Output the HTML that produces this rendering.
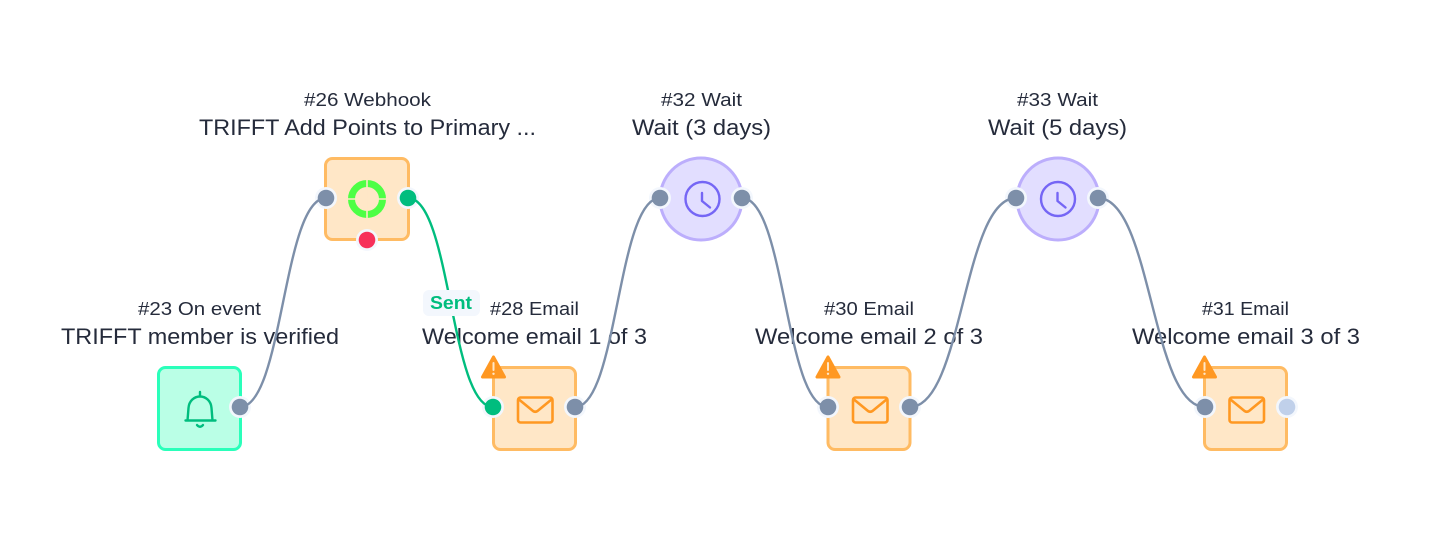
<!DOCTYPE html>
<html><head><meta charset="utf-8"><style>
html,body{margin:0;padding:0;background:#fff;width:1434px;height:538px;overflow:hidden}
svg{display:block}
text{font-family:"Liberation Sans",sans-serif;fill:#252b3b}
.a{font-size:18px}.b{font-size:22px}
.n{fill:#ffe7c7;stroke:#ffbb63;stroke-width:3}
.g{fill:#7d8fa9}
.c{fill:none;stroke:#7d8fa9;stroke-width:2.4}
.e{fill:none;stroke:#ff9822;stroke-width:2.6;stroke-linejoin:round;stroke-linecap:round}
</style></head><body>
<svg width="1434" height="538" viewBox="0 0 1434 538" xmlns="http://www.w3.org/2000/svg">
<text class="a" x="138" y="315" textLength="123" lengthAdjust="spacingAndGlyphs">#23 On event</text>
<text class="b" x="61" y="344" textLength="278" lengthAdjust="spacingAndGlyphs">TRIFFT member is verified</text>
<text class="a" x="304" y="106" textLength="127" lengthAdjust="spacingAndGlyphs">#26 Webhook</text>
<text class="b" x="199" y="135" textLength="337" lengthAdjust="spacingAndGlyphs">TRIFFT Add Points to Primary ...</text>
<text class="a" x="490" y="315" textLength="89" lengthAdjust="spacingAndGlyphs">#28 Email</text>
<text class="b" x="422" y="344" textLength="225" lengthAdjust="spacingAndGlyphs">Welcome email 1 of 3</text>
<text class="a" x="661" y="106" textLength="81" lengthAdjust="spacingAndGlyphs">#32 Wait</text>
<text class="b" x="632" y="135" textLength="139" lengthAdjust="spacingAndGlyphs">Wait (3 days)</text>
<text class="a" x="824" y="315" textLength="90" lengthAdjust="spacingAndGlyphs">#30 Email</text>
<text class="b" x="755" y="344" textLength="228" lengthAdjust="spacingAndGlyphs">Welcome email 2 of 3</text>
<text class="a" x="1017" y="106" textLength="81" lengthAdjust="spacingAndGlyphs">#33 Wait</text>
<text class="b" x="988" y="135" textLength="139" lengthAdjust="spacingAndGlyphs">Wait (5 days)</text>
<text class="a" x="1202" y="315" textLength="87" lengthAdjust="spacingAndGlyphs">#31 Email</text>
<text class="b" x="1132" y="344" textLength="228" lengthAdjust="spacingAndGlyphs">Welcome email 3 of 3</text>

<rect x="158.500" y="367.500" width="82" height="82" rx="7" fill="#baffe6" stroke="#2affba" stroke-width="3"/>
<rect class="n" x="325.500" y="158.500" width="83" height="81" rx="7"/>
<rect class="n" x="493.500" y="367.500" width="82" height="82" rx="7"/>
<rect class="n" x="828" y="367.500" width="82" height="82" rx="7"/>
<rect class="n" x="1204.500" y="367.500" width="82" height="82" rx="7"/>
<circle cx="701" cy="199" r="41" fill="#e2deff" stroke="#bcaefc" stroke-width="3"/>
<circle cx="1058" cy="199" r="41" fill="#e2deff" stroke="#bcaefc" stroke-width="3"/>

<g fill="none" stroke="#00bd7e" stroke-width="2.400" stroke-linecap="round" stroke-linejoin="round">
<path d="M185.500 420.500 H215.500 M187.500 420.500 L188.500 408 C189 401 194 396.500 200 396.500 C206 396.500 211 401 211.500 408 L212.500 420.500"/>
<path d="M200 392 V396"/>
<path d="M197 425 Q200 428.500 203 425"/>
</g>

<circle cx="367" cy="199" r="15.500" fill="none" stroke="#4dff45" stroke-width="7"/>
<path d="M366.200 178 h1.600 v42 h-1.600 z M346 198.200 h42 v1.600 h-42 z" fill="#ffe7c7"/>

<g class="e"><rect x="518" y="397.500" width="34.500" height="25" rx="2.500"/><path d="M519 399.500 L533 411 Q535.200 412.500 537.500 411 L551.500 399.500"/></g>
<g class="e"><rect x="853" y="397.500" width="34.500" height="25" rx="2.500"/><path d="M854 399.500 L868 411 Q870.200 412.500 872.500 411 L886.500 399.500"/></g>
<g class="e"><rect x="1229.500" y="397.500" width="34.500" height="25" rx="2.500"/><path d="M1230.500 399.500 L1244.500 411 Q1246.700 412.500 1249 411 L1263 399.500"/></g>

<g fill="none" stroke="#7566f5" stroke-width="2.400" stroke-linecap="round" stroke-linejoin="round">
<circle cx="702.500" cy="199" r="17"/><path d="M702 193 V201 L710 207.500"/>
<circle cx="1058" cy="199" r="17"/><path d="M1057.500 193 V201 L1065.500 207.500"/>
</g>

<g fill="#ff9822" stroke="#ff9822" stroke-width="3" stroke-linejoin="round">
<path d="M493.500 357 L482.500 377 H504.500 Z"/>
<path d="M828 357 L817 377 H839 Z"/>
<path d="M1204.500 357 L1193.500 377 H1215.500 Z"/>
</g>
<g fill="#ffe7c7">
<rect x="492.500" y="362" width="2" height="9" rx="1"/><circle cx="493.500" cy="373.800" r="1.200"/>
<rect x="827" y="362" width="2" height="9" rx="1"/><circle cx="828" cy="373.800" r="1.200"/>
<rect x="1203.500" y="362" width="2" height="9" rx="1"/><circle cx="1204.500" cy="373.800" r="1.200"/>
</g>

<g fill="#f3f7fd">
<circle cx="240" cy="407" r="11"/>
<circle cx="326" cy="198" r="11"/>
<circle cx="408" cy="198" r="11"/>
<circle cx="367" cy="240" r="11"/>
<circle cx="493" cy="407" r="11"/>
<circle cx="575" cy="407" r="11"/>
<circle cx="660" cy="198" r="11"/>
<circle cx="742" cy="198" r="11"/>
<circle cx="828" cy="407" r="11"/>
<circle cx="910" cy="407" r="11"/>
<circle cx="1016" cy="198" r="11"/>
<circle cx="1098" cy="198" r="11"/>
<circle cx="1205" cy="407" r="11"/>
<circle cx="1287" cy="407" r="11"/>
</g>

<path class="c" d="M240 407 C283 407 283 198 326 198"/>
<path fill="none" stroke="#00bd7e" stroke-width="2.400" d="M408 198 C450.500 198 450.500 407 493 407"/>
<path class="c" d="M575 407 C617.500 407 617.500 198 660 198"/>
<path class="c" d="M742 198 C785 198 785 407 828 407"/>
<path class="c" d="M910 407 C963 407 963 198 1016 198"/>
<path class="c" d="M1098 198 C1151.500 198 1151.500 407 1205 407"/>

<rect x="423" y="290" width="57" height="26" rx="6" fill="#f3f7fd"/>
<text x="430" y="309" font-size="18" font-weight="700" style="fill:#00bd7e" textLength="42" lengthAdjust="spacingAndGlyphs">Sent</text>

<circle class="g" cx="240" cy="407" r="8.300"/>
<circle class="g" cx="326" cy="198" r="8.300"/>
<circle cx="408" cy="198" r="8.300" fill="#00bd7e"/>
<circle cx="367" cy="240" r="8.300" fill="#f7305a"/>
<circle cx="493" cy="407" r="8.300" fill="#00bd7e"/>
<circle class="g" cx="575" cy="407" r="8.300"/>
<circle class="g" cx="660" cy="198" r="8.300"/>
<circle class="g" cx="742" cy="198" r="8.300"/>
<circle class="g" cx="828" cy="407" r="8.300"/>
<circle class="g" cx="910" cy="407" r="8.300"/>
<circle class="g" cx="1016" cy="198" r="8.300"/>
<circle class="g" cx="1098" cy="198" r="8.300"/>
<circle class="g" cx="1205" cy="407" r="8.300"/>
<circle cx="1287" cy="407" r="8.300" fill="#c0d0ea"/>
</svg>
</body></html>
